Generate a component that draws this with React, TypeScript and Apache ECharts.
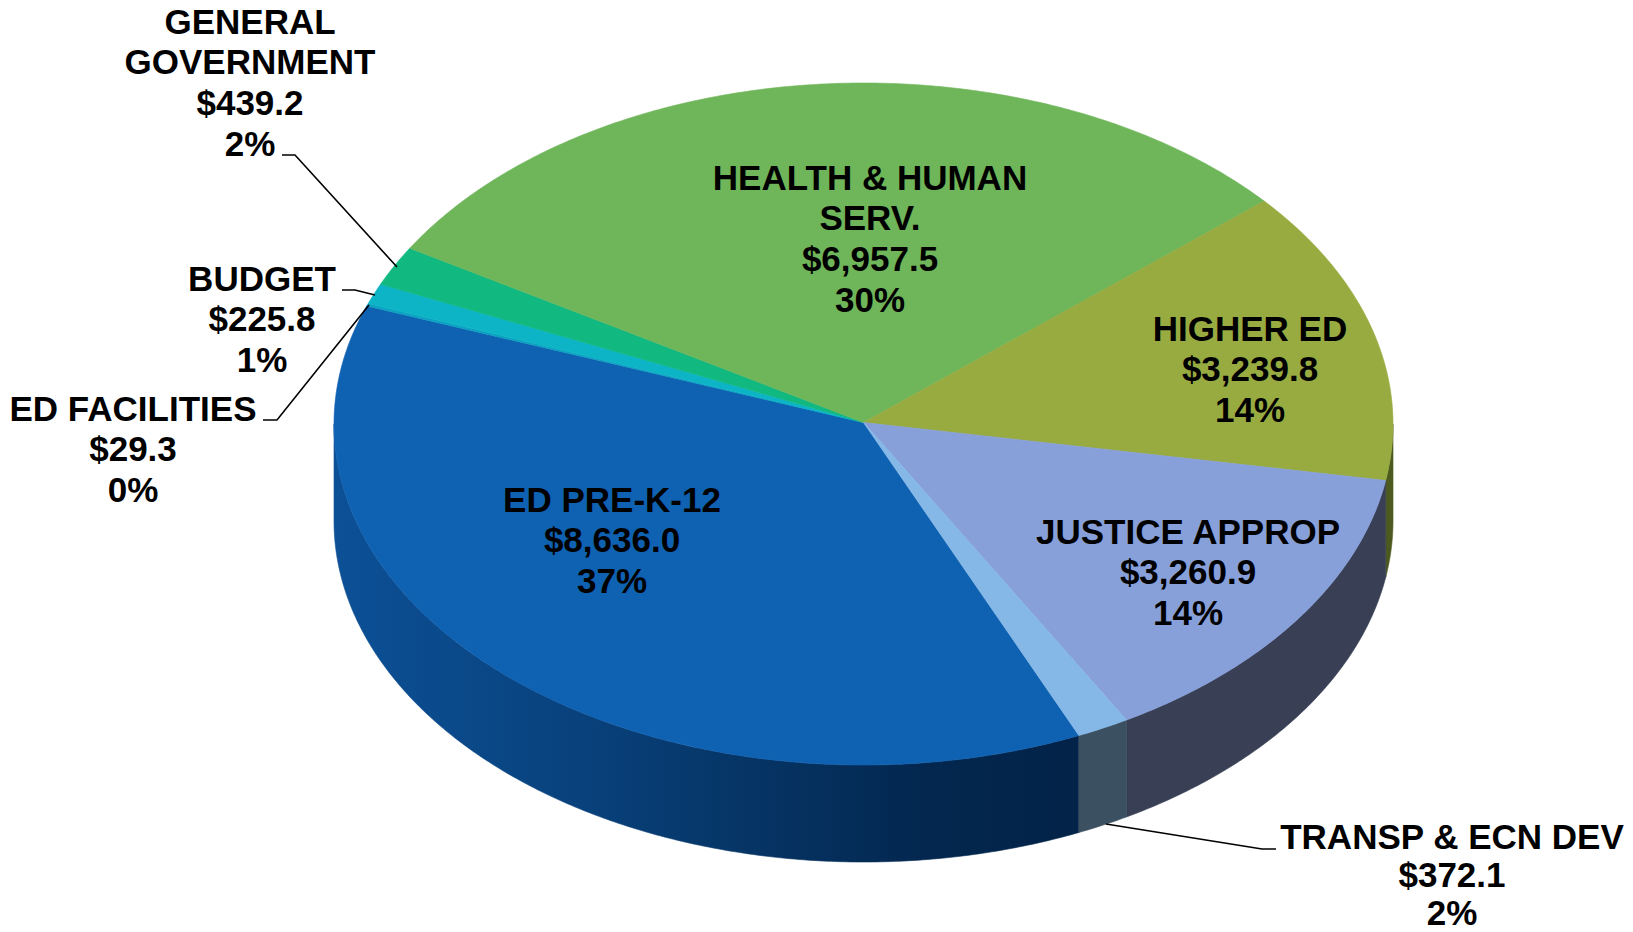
import React, { useEffect, useRef } from "react";
import * as echarts from "echarts";

const categories = ["ED PRE-K-12", "ED FACILITIES", "BUDGET", "GENERAL\nGOVERNMENT", "HEALTH & HUMAN\nSERV.", "HIGHER ED", "JUSTICE APPROP", "TRANSP & ECN DEV"];
const values = [8636.0, 29.3, 225.8, 439.2, 6957.5, 3239.8, 3260.9, 372.1];

const topColors = ["#0f61b2", "#0ca2c2", "#0cb4c6", "#11b981", "#6fb559", "#98ab40", "#87a0da", "#85b8e6"];
const wallColors: any[] = [null, "#0b4e92", "#0b4e92", "#0b4e92", "#4a5a20", "#4c5a20", "#393f55", "#3b5162"];

const W = 1633, H = 932;
const CX = 863.5, CY = 424, RX = 529.5, RY = 341, DEPTH = 97, START = 66;

const labelAnchors = [
  [612, 479], [133, 388], [262, 258], [250, 1], [870, 157], [1250, 308], [1188, 511], [1452, 816],
];
const labelGaps = [40.6, 40.6, 40.6, 40.6, 40.6, 40.6, 40.6, 38.2];
const FONT_SIZE = 35;
const leaders = [
  [[282, 155], [295, 155], [397, 267]],
  [[342, 290], [355, 290], [375, 295]],
  [[263, 420], [277, 420], [369, 305]],
  [[1106, 824], [1262, 849], [1276, 849]],
];

const total = values.reduce((a, b) => a + b, 0);
const spans: number[][] = [];
{
  let a = START;
  for (const v of values) {
    const d = (v / total) * 360;
    spans.push([a, a + d]);
    a += d;
  }
}
const pt = (deg: number, dy = 0) => {
  const r = (deg * Math.PI) / 180;
  return [CX + RX * Math.cos(r), CY + dy + RY * Math.sin(r)];
};
const arc = (a0: number, a1: number, dy = 0) => {
  const n = Math.max(2, Math.ceil((a1 - a0) * 2));
  const out: number[][] = [];
  for (let i = 0; i <= n; i++) out.push(pt(a0 + ((a1 - a0) * i) / n, dy));
  return out;
};
const wallFill = (i: number) =>
  wallColors[i] ??
  new echarts.graphic.LinearGradient(
    CX - RX, 0, CX + 212, 0,
    [
      { offset: 0, color: "#0c5096" },
      { offset: 0.3, color: "#09437f" },
      { offset: 0.55, color: "#063566" },
      { offset: 0.8, color: "#03274f" },
      { offset: 1, color: "#032348" },
    ],
    true
  );

const fmt = (v: number) => "$" + v.toLocaleString("en-US", { minimumFractionDigits: 1, maximumFractionDigits: 1 });

export default function App() {
  const ref = useRef<HTMLDivElement>(null);
  useEffect(() => {
    document.body.style.margin = "0";
    const chart = echarts.init(ref.current!, undefined, { renderer: "svg" });
    const data = values.map((v, i) => ({ value: v, name: categories[i] }));
    const labelItems: any[] = [];
    values.forEach((v, i) => {
      const lines = `${categories[i]}\n${fmt(v)}\n${Math.round((v / total) * 100)}%`.split("\n");
      lines.forEach((text, j) => {
        labelItems.push({
          type: "text",
          z: 6,
          x: labelAnchors[i][0],
          y: labelAnchors[i][1] + j * labelGaps[i] + 20.3,
          style: {
            text,
            font: `bold ${FONT_SIZE}px "Liberation Sans", Arial, sans-serif`,
            lineHeight: 26,
            fill: "#000000",
            align: "center",
            verticalAlign: "middle",
          },
        });
      });
    });
    chart.setOption({
      animation: false,
      backgroundColor: "#ffffff",
      series: [
        {
          type: "custom",
          coordinateSystem: "none",
          silent: true,
          z: 1,
          data,
          renderItem: (params: any) => {
            const i = params.dataIndex;
            const [a0, a1] = spans[i];
            const children: any[] = [];
            for (const k of [0, 360]) {
              const lo = Math.max(a0, k), hi = Math.min(a1, k + 180);
              if (hi > lo) {
                const fill = wallFill(i);
                children.push({
                  type: "polygon",
                  shape: { points: [...arc(lo, hi), ...arc(lo, hi, DEPTH).reverse()] },
                  style: { fill, stroke: fill, lineWidth: 0.6 },
                });
              }
            }
            return { type: "group", children };
          },
        },
        {
          type: "custom",
          coordinateSystem: "none",
          silent: true,
          z: 2,
          data,
          renderItem: (params: any) => {
            const i = params.dataIndex;
            const [a0, a1] = spans[i];
            return {
              type: "polygon",
              shape: { points: [[CX, CY - 1.5], ...arc(a0, a1)] },
              style: { fill: topColors[i], stroke: topColors[i], lineWidth: 0.6 },
            };
          },
        },
      ],
      graphic: [
        ...leaders.map((points) => ({
          type: "polyline",
          z: 5,
          shape: { points },
          style: { stroke: "#000000", lineWidth: 1.6, fill: "none" },
        })),
        ...labelItems,
      ],
    });
    return () => chart.dispose();
  }, []);
  return <div ref={ref} style={{ width: W, height: H }} />;
}
